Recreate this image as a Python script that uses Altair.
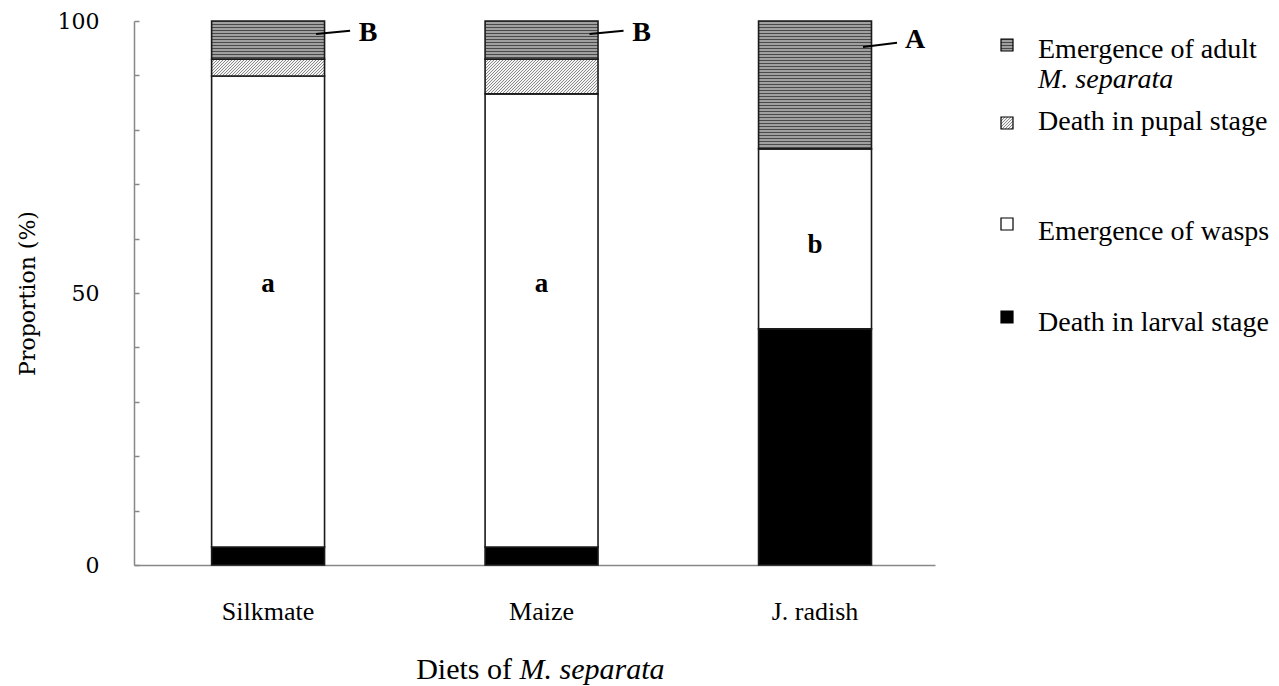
import altair as alt
import pandas as pd
import math

# ---- data ----
diets = ["Silkmate", "Maize", "J. radish"]
larval = [3.3, 3.3, 43.4]      # Death in larval stage (%)
wasps = [86.6, 83.3, 33.1]     # Emergence of wasps (%)
pupal = [3.1, 6.4, 0.0]        # Death in pupal stage (%)
adult = [7.0, 7.0, 23.5]       # Emergence of adult M. separata (%)
wasp_letters = ["a", "a", "b"]
wasp_letter_y = [51.7, 51.7, 58.8]
adult_letters = ["B", "B", "A"]
adult_letter_y = [97.8, 97.8, 96.5]
leader_y1 = [97.6, 97.6, 95.2]
leader_y2 = [98.2, 98.2, 96.0]
y_tick_values = [0, 10, 20, 30, 40, 50, 60, 70, 80, 90, 100]

legend_labels = ["Emergence of adult", "Death in pupal stage", "Emergence of wasps", "Death in larval stage"]

# ---- layout (pixels, plot coordinates) ----
W, H = 801, 544
LEG_X_SYM, LEG_X_TXT = 873, 904
leg_sym_y = [24, 102, 203, 296]
leg_txt_y = [29, 101, 211, 302]
LEG_LINE2 = 30

SERIF = "Liberation Serif, Times New Roman, Times, serif"
AXFONT = "DejaVu Serif, serif"
DARK, LIGHT = "#4a4a4a", "#a0a0a0"
AXCOL = "#888888"

rows = []
for i, d in enumerate(diets):
    s0 = 0.0
    for stage, vals in [("larval", larval), ("wasps", wasps), ("pupal", pupal), ("adult", adult)]:
        v = vals[i]
        rows.append({"diet": d, "stage": stage, "start": s0, "end": s0 + v, "value": v})
        s0 += v
df = pd.DataFrame(rows)

ann = pd.DataFrame({
    "diet": diets, "wl": wasp_letters, "wy": wasp_letter_y,
    "al": adult_letters, "ay": adult_letter_y, "ly1": leader_y1, "ly2": leader_y2,
})

xscale = alt.Scale(domain=diets, paddingInner=0.587, paddingOuter=0.258, align=0.55)
BAR = 113
xaxis = alt.Axis(title=None, ticks=False, grid=False, domainColor=AXCOL, domainWidth=1.5,
                 labelFont=SERIF, labelFontSize=26, labelColor="black", labelPadding=33,
                 labelAngle=0)
yscale = alt.Scale(domain=[0, 100], nice=False)
yaxis = alt.Axis(values=y_tick_values,
                 labelExpr="datum.value % 50 == 0 ? datum.label : ''",
                 grid=False, domainColor=AXCOL, domainWidth=1.5, ticks=False, tickSize=0,
                 labelFont=AXFONT, labelFontSize=22, labelColor="black",
                 labelPadding=35, title="Proportion (%)", titleFont=AXFONT, titleFontSize=22,
                 titleFontWeight="normal", titleColor="black", titlePadding=18)
# inward-pointing ticks: a right-oriented axis moved onto the left edge
tickaxis = alt.Axis(orient="right", offset=-W, values=y_tick_values, labels=False, domain=False,
                    ticks=True, tickSize=5, tickColor=AXCOL, tickWidth=1.5, grid=False, title=None)


def X():
    return alt.X("diet:N", sort=diets, scale=xscale, axis=xaxis)


def Y(field):
    return alt.Y(field, type="quantitative", scale=yscale, axis=yaxis)


def stripe_stops(span_px, period, frac, dark, light):
    step = period / span_px
    st = []
    k = 0
    while k * step < 1.0:
        a = k * step
        b = min(1.0, a + frac * step)
        c = min(1.0, a + step)
        st += [alt.GradientStop(offset=a, color=dark), alt.GradientStop(offset=b, color=dark),
               alt.GradientStop(offset=b, color=light), alt.GradientStop(offset=c, color=light)]
        k += 1
    return st


def hstripes(h_px):
    return alt.LinearGradient(gradient="linear", stops=stripe_stops(h_px, 3.0, 0.4, DARK, LIGHT),
                              x1=0, x2=0, y1=0, y2=1)


def hatch(w_px, h_px):
    r = h_px / w_px
    X2 = (1 + r) / (1 + r * r)
    Y2 = X2 * r
    return alt.LinearGradient(gradient="linear",
                              stops=stripe_stops(w_px + h_px, 3.0, 0.34, "#8a8a8a", "#f4f4f4"),
                              x1=0, y1=0, x2=X2, y2=Y2)


px_per_unit = H / 100.0
base = alt.Chart(df)
layers = []
bar_kw = dict(stroke="#1a1a1a", strokeWidth=1.6)

layers.append(base.transform_filter(alt.datum.stage == "larval").mark_bar(fill="black", **bar_kw)
              .encode(x=X(), y=Y("start"), y2="end"))
layers.append(base.transform_filter(alt.datum.stage == "wasps").mark_bar(fill="white", **bar_kw)
              .encode(x=X(), y=Y("start"), y2="end"))
for i, d in enumerate(diets):
    if pupal[i] > 0:
        layers.append(base.transform_filter((alt.datum.stage == "pupal") & (alt.datum.diet == d))
                      .mark_bar(fill=hatch(BAR, pupal[i] * px_per_unit), **bar_kw)
                      .encode(x=X(), y=Y("start"), y2="end"))
    layers.append(base.transform_filter((alt.datum.stage == "adult") & (alt.datum.diet == d))
                  .mark_bar(fill=hstripes(adult[i] * px_per_unit), **bar_kw)
                  .encode(x=X(), y=Y("start"), y2="end"))

a_base = alt.Chart(ann)
layers.append(a_base.mark_text(font=SERIF, fontSize=27, fontWeight="bold", color="black")
              .encode(x=X(), y=Y("wy"), text="wl:N"))
layers.append(a_base.mark_rule(color="black", strokeWidth=2, xOffset=48, x2Offset=82)
              .encode(x=X(), x2="diet:N", y=Y("ly1"), y2="ly2"))
layers.append(a_base.mark_text(font=SERIF, fontSize=28, fontWeight="bold", color="black", dx=100)
              .encode(x=X(), y=Y("ay"), text="al:N"))

# x-axis title with italic species name
layers.append(alt.Chart(pd.DataFrame({"t": ["Diets of"]})).mark_text(
    font=SERIF, fontSize=30, align="right", baseline="middle", color="black")
    .encode(x=alt.value(378), y=alt.value(H + 105), text="t:N"))
layers.append(alt.Chart(pd.DataFrame({"t": ["M. separata"]})).mark_text(
    font=SERIF, fontSize=30, fontStyle="italic", align="left", baseline="middle", color="black")
    .encode(x=alt.value(385.5), y=alt.value(H + 105), text="t:N"))

# legend
sym_fills = [hstripes(12), hatch(12, 12), "white", "black"]
for k in range(4):
    layers.append(alt.Chart(pd.DataFrame({"k": [k]})).mark_rect(
        fill=sym_fills[k], stroke="black", strokeWidth=1.2, width=12, height=12)
        .encode(x=alt.value(LEG_X_SYM), y=alt.value(leg_sym_y[k])))
leg_df = pd.DataFrame({"label": legend_labels, "py": leg_txt_y})
layers.append(alt.Chart(leg_df).mark_text(font=SERIF, fontSize=28, align="left",
                                          baseline="middle", color="black")
              .encode(x=alt.value(LEG_X_TXT), y=alt.Y("py:Q", scale=None, axis=None), text="label:N"))
layers.append(alt.Chart(pd.DataFrame({"t": ["M. separata"]})).mark_text(
    font=SERIF, fontSize=28, fontStyle="italic", align="left", baseline="middle", color="black")
    .encode(x=alt.value(LEG_X_TXT), y=alt.value(leg_txt_y[0] + LEG_LINE2), text="t:N"))

main = alt.layer(*layers)
ticks_layer = alt.Chart(pd.DataFrame({"v": [0, 100]})).mark_point(opacity=0).encode(
    y=alt.Y("v:Q", scale=yscale, axis=tickaxis))

chart = alt.layer(main, ticks_layer).resolve_axis(y="independent").properties(
    width=W, height=H, padding={"left": 8, "top": 2, "right": 0, "bottom": 0},
    background="white"
).configure_view(stroke=None)

chart.save("out.html", embed_options={"renderer": "svg", "actions": False})
